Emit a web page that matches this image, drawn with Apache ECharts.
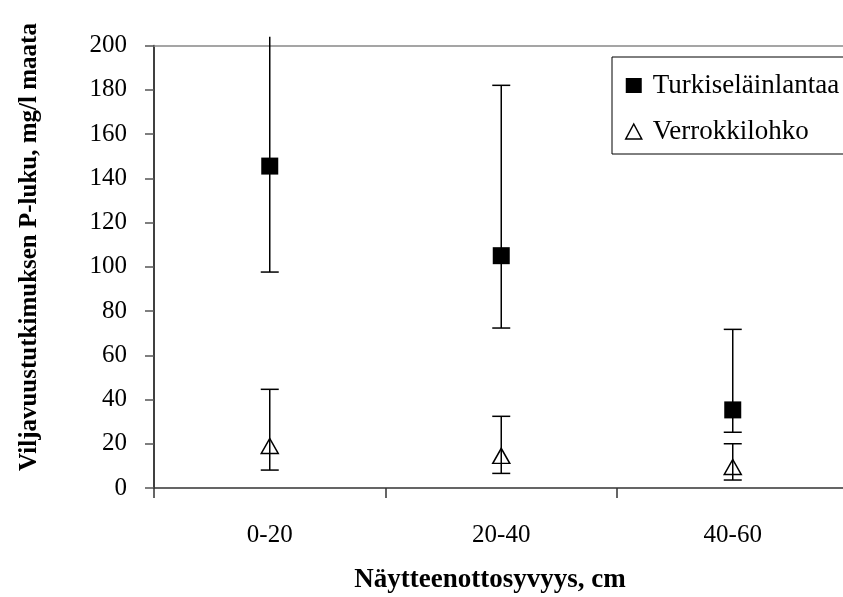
<!DOCTYPE html>
<html>
<head>
<meta charset="utf-8">
<script src="https://cdn.jsdelivr.net/npm/echarts@6/dist/echarts.min.js"></script>
<style>html,body{margin:0;padding:0;background:#fff}#c{width:843px;height:597px}</style>
</head>
<body>
<div id="c"></div>
<script>
var categories = ['0-20', '20-40', '40-60'];
var yTicks = [0, 20, 40, 60, 80, 100, 120, 140, 160, 180, 200];
var turkisMean = [145.5, 105, 35.3];
var turkisLow = [97.6, 72.3, 25.2];
var turkisHigh = [204, 182, 71.7];
var verrokkiMean = [19, 14.5, 9.5];
var verrokkiLow = [8.1, 6.6, 3.6];
var verrokkiHigh = [44.6, 32.4, 20];

var FONT = "'Liberation Serif', 'Times New Roman', serif";
var yMax = yTicks[yTicks.length - 1];

function errData(lo, hi) {
  return categories.map(function (c, i) { return [i, lo[i], hi[i]]; });
}
function renderErr(params, api) {
  var x = api.value(0), lo = api.value(1), hi = api.value(2);
  var pLo = api.coord([x, lo]);
  var pHi = api.coord([x, hi]);
  var hw = 9;
  var style = { stroke: '#000', lineWidth: 1.5 };
  var children = [
    { type: 'line', shape: { x1: pLo[0], y1: pLo[1], x2: pHi[0], y2: pHi[1] }, style: style },
    { type: 'line', shape: { x1: pLo[0] - hw, y1: pLo[1], x2: pLo[0] + hw, y2: pLo[1] }, style: style }
  ];
  if (hi <= yMax) {
    children.push({ type: 'line', shape: { x1: pHi[0] - hw, y1: pHi[1], x2: pHi[0] + hw, y2: pHi[1] }, style: style });
  }
  return { type: 'group', children: children };
}

var chart = echarts.init(document.getElementById('c'), null, { renderer: 'canvas' });
chart.setOption({
  animation: false,
  backgroundColor: '#fff',
  textStyle: { fontFamily: FONT },
  grid: { left: 154, top: 45.5, height: 442.5, width: 694.5, containLabel: false, outerBoundsMode: 'none' },
  xAxis: [{
    type: 'category',
    data: categories,
    boundaryGap: true,
    axisLine: { lineStyle: { color: '#333', width: 1.5 } },
    axisTick: { show: true, length: 10, lineStyle: { color: '#333', width: 1.5 } },
    axisLabel: { fontSize: 25, color: '#000', fontFamily: FONT, margin: 35 },
    splitLine: { show: false }
  }, {
    type: 'category',
    data: categories,
    position: 'top',
    axisLine: { lineStyle: { color: '#888', width: 1.5 } },
    axisTick: { show: false },
    axisLabel: { show: false }
  }],
  yAxis: {
    type: 'value',
    min: 0,
    max: yMax,
    interval: 20,
    axisLine: { show: true, lineStyle: { color: '#000', width: 1.5 } },
    axisTick: { show: true, length: 9, lineStyle: { color: '#555', width: 1.5 } },
    axisLabel: { fontSize: 25, color: '#000', fontFamily: FONT, margin: 27 },
    splitLine: { show: false }
  },
  legend: {
    orient: 'vertical',
    left: 612,
    top: 57,
    borderColor: '#000',
    borderWidth: 1,
    padding: [15, 40, 9, 13],
    itemGap: 19,
    itemWidth: 16,
    itemHeight: 15,
    textStyle: { fontSize: 27, color: '#000', fontFamily: FONT, padding: [0, 0, 0, 6] },
    data: [
      { name: 'Turkiseläinlantaa', icon: 'rect', itemStyle: { color: '#000', opacity: 1 } },
      { name: 'Verrokkilohko', icon: 'triangle', itemStyle: { color: 'rgba(0,0,0,0)', borderColor: '#000', borderWidth: 1.5, opacity: 1 } }
    ]
  },
  graphic: [
    {
      type: 'text',
      x: 30, y: 247,
      rotation: Math.PI / 2,
      style: { text: 'Viljavuustutkimuksen P-luku, mg/l maata', font: 'bold 25px ' + FONT, fill: '#000', align: 'center', verticalAlign: 'middle' }
    },
    {
      type: 'text',
      x: 490, y: 580,
      style: { text: 'Näytteenottosyvyys, cm', font: 'bold 27px ' + FONT, fill: '#000', align: 'center', verticalAlign: 'middle' }
    }
  ],
  series: [
    {
      type: 'custom', name: 'errT', renderItem: renderErr, data: errData(turkisLow, turkisHigh),
      encode: { x: 0, y: [1, 2] }, z: 1, clip: false, silent: true
    },
    {
      type: 'custom', name: 'errV', renderItem: renderErr, data: errData(verrokkiLow, verrokkiHigh),
      encode: { x: 0, y: [1, 2] }, z: 1, clip: false, silent: true
    },
    {
      type: 'scatter', name: 'Turkiseläinlantaa', data: turkisMean, symbol: 'rect', symbolSize: 17,
      itemStyle: { color: '#000', opacity: 1 }, z: 3
    },
    {
      type: 'scatter', name: 'Verrokkilohko', data: verrokkiMean, symbol: 'triangle', symbolSize: [17, 15],
      itemStyle: { color: 'rgba(0,0,0,0)', borderColor: '#000', borderWidth: 1.5, opacity: 1 }, z: 3
    }
  ]
});
</script>
</body>
</html>
